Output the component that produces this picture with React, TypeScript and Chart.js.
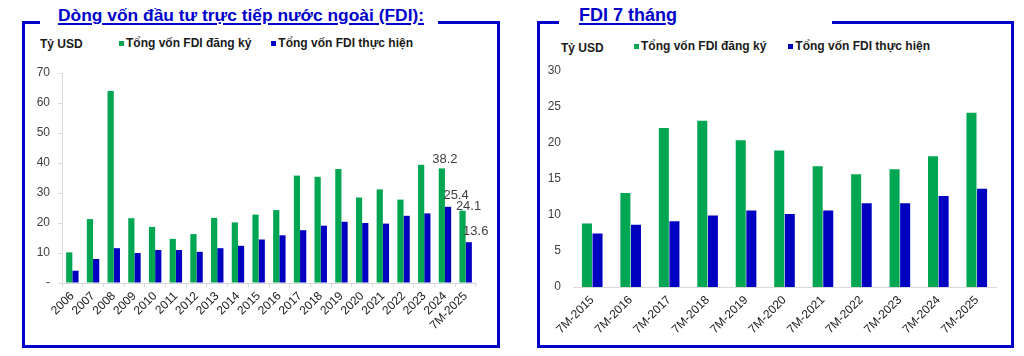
import React, { useEffect, useRef } from "react";
import { Chart, registerables } from "chart.js";

Chart.register(...registerables);

// ---------- Data ----------
const yearCategories = [
  "2006", "2007", "2008", "2009", "2010", "2011", "2012", "2013", "2014", "2015",
  "2016", "2017", "2018", "2019", "2020", "2021", "2022", "2023", "2024", "7M-2025",
];
const yearRegistered = [
  10.2, 21.3, 64.0, 21.6, 18.7, 14.7, 16.3, 21.7, 20.2, 22.8,
  24.3, 35.8, 35.4, 38.0, 28.5, 31.2, 27.8, 39.4, 38.2, 24.1,
];
const yearDisbursed = [
  4.1, 8.0, 11.6, 10.0, 11.0, 11.0, 10.4, 11.6, 12.4, 14.5,
  15.9, 17.6, 19.1, 20.4, 20.0, 19.8, 22.4, 23.2, 25.4, 13.6,
];
const yearLabelledIndices = [18, 19];
const yearAxisMax = 70;
const yearAxisStep = 10;

const sevenMonthCategories = [
  "7M-2015", "7M-2016", "7M-2017", "7M-2018", "7M-2019", "7M-2020",
  "7M-2021", "7M-2022", "7M-2023", "7M-2024", "7M-2025",
];
const sevenMonthRegistered = [8.8, 13.0, 22.0, 23.0, 20.3, 18.9, 16.7, 15.6, 16.3, 18.1, 24.1];
const sevenMonthDisbursed = [7.4, 8.6, 9.1, 9.9, 10.6, 10.1, 10.6, 11.6, 11.6, 12.6, 13.6];
const sevenMonthAxisMax = 30;
const sevenMonthAxisStep = 5;

const seriesNames = ["Tổng vốn FDI đăng ký", "Tổng vốn FDI thực hiện"];
const unitLabel = "Tỷ USD";
const leftTitle = "Dòng vốn đầu tư trực tiếp nước ngoài (FDI):";
const rightTitle = "FDI 7 tháng";

// ---------- Styles ----------
const GREEN = "#00A651";
const BLUE = "#0000C0";
const FRAME = "#0000CC";
const AXIS = "#D9D9D9";
const TICK_TEXT = "#404040";
const TICK_FONT = { family: "'Liberation Sans', Arial, sans-serif", size: 12 };

const valueLabelPlugin = {
  id: "valueLabels",
  afterDatasetsDraw(chart: any, _args: any, opts: any) {
    if (!opts || !opts.items) return;
    const ctx = chart.ctx;
    ctx.save();
    ctx.font = "13px 'Liberation Sans', Arial, sans-serif";
    ctx.fillStyle = TICK_TEXT;
    ctx.textAlign = "center";
    ctx.textBaseline = "alphabetic";
    opts.items.forEach((it: any) => {
      const meta = chart.getDatasetMeta(it.datasetIndex);
      const el = meta.data[it.index];
      const v = chart.data.datasets[it.datasetIndex].data[it.index];
      if (!el) return;
      ctx.fillText(Number(v).toFixed(1), el.x + it.dx, el.y + it.dy);
    });
    ctx.restore();
  },
};

type ChartProps = {
  left: number;
  top: number;
  width: number;
  height: number;
  config: any;
};

function ChartCanvas({ left, top, width, height, config }: ChartProps) {
  const ref = useRef<HTMLCanvasElement | null>(null);
  useEffect(() => {
    if (!ref.current) return;
    const chart = new Chart(ref.current, config);
    return () => chart.destroy();
  }, []);
  return (
    <div style={{ position: "absolute", left, top, width, height }}>
      <canvas ref={ref} width={width} height={height} style={{ width, height, display: "block" }} />
    </div>
  );
}

function makeConfig(opts: {
  categories: string[];
  registered: number[];
  disbursed: number[];
  max: number;
  step: number;
  zeroDash: boolean;
  yWidth: number;
  xHeight: number;
  padTop: number;
  padRight: number;
  catPct: number;
  barPct: number;
  showYAxisLine: boolean;
  showXTicks: boolean;
  labelItems?: any[];
}) {
  return {
    type: "bar",
    data: {
      labels: opts.categories,
      datasets: [
        {
          label: seriesNames[0],
          data: opts.registered,
          backgroundColor: GREEN,
          borderWidth: 0,
          categoryPercentage: opts.catPct,
          barPercentage: opts.barPct,
        },
        {
          label: seriesNames[1],
          data: opts.disbursed,
          backgroundColor: BLUE,
          borderWidth: 0,
          categoryPercentage: opts.catPct,
          barPercentage: opts.barPct,
        },
      ],
    },
    options: {
      responsive: false,
      animation: false,
      devicePixelRatio: 1,
      layout: { padding: { top: opts.padTop, right: opts.padRight, left: 0, bottom: 0 } },
      plugins: {
        legend: { display: false },
        tooltip: { enabled: false },
        title: { display: false },
        valueLabels: { items: opts.labelItems || [] },
      },
      scales: {
        x: {
          offset: true,
          grid: {
            display: opts.showXTicks,
            offset: true,
            drawOnChartArea: false,
            drawTicks: true,
            tickLength: 4,
            color: AXIS,
          },
          border: { display: true, color: AXIS, width: 1 },
          ticks: {
            autoSkip: false,
            maxRotation: 45,
            minRotation: 45,
            padding: 2,
            color: "#1a1a1a",
            font: TICK_FONT,
          },
          afterFit(scale: any) {
            scale.height = opts.xHeight;
          },
        },
        y: {
          min: 0,
          max: opts.max,
          grid: {
            display: opts.showYAxisLine,
            drawOnChartArea: false,
            drawTicks: true,
            tickLength: 4,
            color: AXIS,
          },
          border: { display: opts.showYAxisLine, color: AXIS, width: 1 },
          ticks: {
            stepSize: opts.step,
            padding: 8,
            color: TICK_TEXT,
            font: TICK_FONT,
            callback: (v: any) => (opts.zeroDash && Number(v) === 0 ? "-" : String(v)),
          },
          afterFit(scale: any) {
            scale.width = opts.yWidth;
          },
        },
      },
    },
    plugins: [valueLabelPlugin],
  };
}

const leftConfig = makeConfig({
  categories: yearCategories,
  registered: yearRegistered,
  disbursed: yearDisbursed,
  max: yearAxisMax,
  step: yearAxisStep,
  zeroDash: true,
  yWidth: 40,
  xHeight: 57,
  padTop: 18,
  padRight: 22,
  catPct: 0.6,
  barPct: 1.0,
  showYAxisLine: true,
  showXTicks: true,
  labelItems: [
    { datasetIndex: 0, index: yearLabelledIndices[0], dx: 3, dy: -5 },
    { datasetIndex: 1, index: yearLabelledIndices[0], dx: 8, dy: -8 },
    { datasetIndex: 0, index: yearLabelledIndices[1], dx: 6, dy: -1 },
    { datasetIndex: 1, index: yearLabelledIndices[1], dx: 7, dy: -7 },
  ],
});

const rightConfig = makeConfig({
  categories: sevenMonthCategories,
  registered: sevenMonthRegistered,
  disbursed: sevenMonthDisbursed,
  max: sevenMonthAxisMax,
  step: sevenMonthAxisStep,
  zeroDash: false,
  yWidth: 33,
  xHeight: 53,
  padTop: 13,
  padRight: 14,
  catPct: 0.55,
  barPct: 0.95,
  showYAxisLine: false,
  showXTicks: false,
});

const legendFont = "bold 12px 'Liberation Sans', Arial, sans-serif";

function Legend({ left, top, unitLeft, unitTop, gap }: { left: number; top: number; unitLeft: number; unitTop: number; gap: number }) {
  return (
    <>
      <div style={{ position: "absolute", left: unitLeft, top: unitTop, font: legendFont, color: "#1a1a1a", lineHeight: "14px", whiteSpace: "nowrap" }}>
        {unitLabel}
      </div>
      <div style={{ position: "absolute", left, top, display: "flex", alignItems: "center", gap, font: legendFont, color: "#1a1a1a", lineHeight: "14px", whiteSpace: "nowrap" }}>
        {seriesNames.map((n, i) => (
          <div key={n} style={{ display: "flex", alignItems: "center" }}>
            <span style={{ display: "inline-block", width: 5, height: 5, background: i === 0 ? GREEN : BLUE, marginRight: 2 }} />
            <span>{n}</span>
          </div>
        ))}
      </div>
    </>
  );
}

function Frame({ left, right, top, bottom, gapLeft, gapRight, title, titleLeft, titleSize }: any) {
  return (
    <>
      <div style={{ position: "absolute", left, top, width: right - left, height: bottom - top, border: `3px solid ${FRAME}`, boxSizing: "border-box" }} />
      <div style={{ position: "absolute", left: gapLeft, top: top - 4, width: gapRight - gapLeft, height: 10, background: "#fff" }} />
      <div
        style={{
          position: "absolute",
          left: titleLeft,
          top: 4,
          font: `bold ${titleSize}px 'Liberation Sans', Arial, sans-serif`,
          lineHeight: "22px",
          color: FRAME,
          textDecoration: "underline",
          textDecorationThickness: "2px",
          textUnderlineOffset: "2px",
          whiteSpace: "nowrap",
          background: "#fff",
        }}
      >
        {title}
      </div>
    </>
  );
}

export default function App() {
  return (
    <div style={{ position: "absolute", left: 0, top: 0, width: 1024, height: 356, background: "#fff", overflow: "hidden" }}>
      <Frame left={22} right={500} top={21} bottom={348} gapLeft={40} gapRight={438} title={leftTitle} titleLeft={58} titleSize={17.4} />
      <Frame left={537} right={1014} top={21} bottom={348} gapLeft={559} gapRight={832} title={rightTitle} titleLeft={579} titleSize={18} />
      <Legend unitLeft={40} unitTop={37} left={119} top={36} gap={20} />
      <Legend unitLeft={561} unitTop={41} left={634} top={39} gap={22} />
      <ChartCanvas left={22} top={55} width={476} height={285} config={leftConfig} />
      <ChartCanvas left={540} top={55} width={470} height={285} config={rightConfig} />
    </div>
  );
}
